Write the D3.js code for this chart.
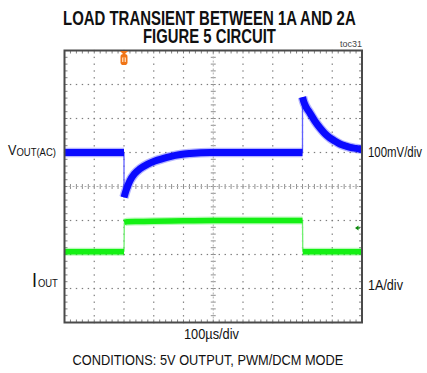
<!DOCTYPE html>
<html>
<head>
<meta charset="utf-8">
<script src="https://cdn.jsdelivr.net/npm/d3@7.9.0/dist/d3.min.js"></script>
<style>
  body { margin: 0; background: #fff; }
  svg { display: block; background: #fff; }
  text { font-family: 'Liberation Sans', Arial, sans-serif; fill: #111; }
</style>
</head>
<body>
<svg id="chart" width="427" height="373"></svg>
<script>
// scope screen: 10 div across (100us/div), 8 div down
const timeTicks = d3.range(0, 1001, 100);
const divTicks = d3.range(-4, 4.01, 1);

// VOUT(AC), mV relative to settled level
const voutTime = [0, 200, 200, 205, 210, 220, 235, 254, 280, 304, 330, 355, 390, 422, 489, 560, 800,
  800, 804, 812, 825, 842, 859, 875, 892, 910, 926, 945, 960, 980, 1000];
const voutMv = [0, 0, -132, -117, -104, -83, -63, -48, -34, -25, -18, -12, -6, -3, 0, 0, 0,
  163, 150, 134, 116, 92, 72, 56, 43, 33, 25, 19, 15, 12, 9];

// IOUT, A
const ioutTime = [0, 200, 201, 204, 210, 250, 300, 400, 500, 600, 700, 800, 801, 1000];
const ioutAmps = [1, 1, 1.86, 1.87, 1.88, 1.89, 1.90, 1.91, 1.92, 1.92, 1.92, 1.92, 1, 1];

const voutPerDiv = 100;   // mV/div
const ioutPerDiv = 1;     // A/div
const voutZeroDiv = 1;    // where 0 mV sits on screen
const ioutZeroDiv = -2.92;
const triggerTime = 200;
const ioutMarkerAmps = 1.7;

const svg = d3.select('#chart');

let x = d3.scaleLinear().domain([0, 1000]).range([64.5, 362]);
let y = d3.scaleLinear().domain([-4, 4]).range([322.5, 50.5]);

const minorT = d3.range(0, 1000.01, 20);
const minorD = d3.range(-4, 4.01, 0.2);

// grid dots
let grid = svg.append('g').attr('fill', '#7d7d7d');
timeTicks.slice(1, -1).filter((t) => t !== 500).forEach((t) => {
  minorD.forEach((d) => {
    grid.append('rect').attr('x', x(t) - 0.6).attr('y', y(d) - 0.6).attr('width', 1.2).attr('height', 1.4);
  });
});
divTicks.slice(1, -1).filter((d) => d !== 0).forEach((d) => {
  minorT.forEach((t) => {
    grid.append('rect').attr('x', x(t) - 0.6).attr('y', y(d) - 0.6).attr('width', 1.4).attr('height', 1.2);
  });
});

// center cross with ticks
let cross = svg.append('g').attr('stroke', '#8f8f8f').attr('stroke-width', 1);
minorT.forEach((t) => {
  cross.append('line').attr('x1', x(t)).attr('x2', x(t)).attr('y1', y(0) - 2.5).attr('y2', y(0) + 2.5);
});
minorD.forEach((d) => {
  cross.append('line').attr('x1', x(500) - 2.5).attr('x2', x(500) + 2.5).attr('y1', y(d)).attr('y2', y(d));
});
cross.append('line').attr('x1', x(0)).attr('x2', x(1000)).attr('y1', y(0)).attr('y2', y(0))
  .attr('stroke-dasharray', '2,2').attr('stroke', '#b0b0b0');
cross.append('line').attr('x1', x(500)).attr('x2', x(500)).attr('y1', y(-4)).attr('y2', y(4))
  .attr('stroke-dasharray', '2,2').attr('stroke', '#b0b0b0');

// border ticks
let bt = svg.append('g').attr('stroke', '#808080').attr('stroke-width', 1);
minorT.forEach((t) => {
  bt.append('line').attr('x1', x(t)).attr('x2', x(t)).attr('y1', y(4)).attr('y2', y(4) + 3);
  bt.append('line').attr('x1', x(t)).attr('x2', x(t)).attr('y1', y(-4)).attr('y2', y(-4) - 3);
});
minorD.forEach((d) => {
  bt.append('line').attr('x1', x(0)).attr('x2', x(0) + 3).attr('y1', y(d)).attr('y2', y(d));
  bt.append('line').attr('x1', x(1000)).attr('x2', x(1000) - 3).attr('y1', y(d)).attr('y2', y(d));
});

function drawTrace(times, values, toDiv, color, edge, core, halo) {
  let pts = times.map((t, i) => [x(t), y(toDiv(values[i]))]);
  let runs = [[pts[0]]];
  let jumps = [];
  for (let i = 1; i < pts.length; i++) {
    if (times[i] - times[i - 1] <= 1) {
      jumps.push([pts[i - 1], pts[i]]);
      runs.push([pts[i]]);
    } else {
      runs[runs.length - 1].push(pts[i]);
    }
  }
  let line = d3.line().curve(d3.curveMonotoneX);
  let g = svg.append('g').attr('fill', 'none').attr('stroke-linecap', 'butt');
  jumps.forEach((j) => {
    g.append('path').attr('d', d3.line()(j)).attr('stroke', edge).attr('stroke-width', 1.3);
  });
  runs.forEach((r) => {
    g.append('path').attr('d', line(r)).attr('stroke', color).attr('stroke-width', halo).attr('stroke-opacity', 0.3);
    g.append('path').attr('d', line(r)).attr('stroke', color).attr('stroke-width', core);
  });
}

drawTrace(voutTime, voutMv, (v) => v / voutPerDiv + voutZeroDiv, '#0a0aff', '#6060ff', 7, 9.5);
drawTrace(ioutTime, ioutAmps, (v) => v / ioutPerDiv + ioutZeroDiv, '#14f014', '#70f070', 5.5, 8);

// frame
svg.append('rect').attr('x', x(0)).attr('y', y(4)).attr('width', x(1000) - x(0)).attr('height', y(-4) - y(4))
  .attr('fill', 'none').attr('stroke', '#4a4a4a').attr('stroke-width', 2);

// trigger marker
let tx = x(triggerTime);
let trig = svg.append('g');
trig.append('path').attr('d', `M${tx - 4},51 L${tx + 4},51 L${tx},55 Z`).attr('fill', '#f07416');
trig.append('rect').attr('x', tx - 3.5).attr('y', 54).attr('width', 7).attr('height', 11).attr('rx', 2.8).attr('fill', '#f07416');
trig.append('rect').attr('x', tx - 2).attr('y', 57.5).attr('width', 4).attr('height', 4.5).attr('fill', '#ffd2a8');
trig.append('rect').attr('x', tx - 0.6).attr('y', 57.5).attr('width', 1.2).attr('height', 4.5).attr('fill', '#f07416');

// IOUT trigger level marker
let my = y(ioutMarkerAmps / ioutPerDiv + ioutZeroDiv);
svg.append('path').attr('d', `M355,${my} L358.5,${my - 2.5} L358.5,${my + 2.5} Z`).attr('fill', '#0a8a0a');
svg.append('line').attr('x1', 357).attr('x2', 360).attr('y1', my).attr('y2', my).attr('stroke', '#0a8a0a').attr('stroke-width', 1.2);

// narrow text: measure, then squeeze horizontally to the wanted width
function narrow(sel, px, py, width, anchor) {
  let len = sel.node().getComputedTextLength();
  let k = width / len;
  let left = anchor === 'middle' ? px - width / 2 : px;
  sel.attr('x', 0).attr('y', 0).attr('text-anchor', 'start')
    .attr('transform', `translate(${left},${py}) scale(${k},1)`);
  return sel;
}
function label(px, py, size, width, str, anchor) {
  let t = svg.append('text').attr('font-size', size).text(str);
  return narrow(t, px, py, width, anchor);
}

// titles
let t1 = svg.append('text').attr('font-size', 19.5).attr('font-weight', 'bold').text('LOAD TRANSIENT BETWEEN 1A AND 2A');
narrow(t1, 209.5, 25, 293, 'middle');
let t2 = svg.append('text').attr('font-size', 19.5).attr('font-weight', 'bold').text('FIGURE 5 CIRCUIT');
narrow(t2, 209.5, 42.5, 133, 'middle');
svg.append('text').attr('x', 362).attr('y', 46.5).attr('text-anchor', 'end')
  .attr('font-size', 9).style('fill', '#444').text('toc31');

// channel labels
let vl = svg.append('text').attr('font-size', 14);
vl.append('tspan').text('V');
vl.append('tspan').attr('font-size', 10.5).attr('dy', 1).text('OUT(AC)');
narrow(vl, 8, 154.5, 48);
let il = svg.append('text').attr('font-size', 20);
il.append('tspan').text('I');
il.append('tspan').attr('font-size', 10.5).attr('dx', 1).text('OUT');
narrow(il, 32, 287, 25);

label(368, 156.5, 14, 54, '100mV/div');
label(368, 289.5, 14, 35, '1A/div');
label(211.5, 338.5, 14, 55, '100µs/div', 'middle');
label(208, 365, 14, 271, 'CONDITIONS: 5V OUTPUT, PWM/DCM MODE', 'middle');
</script>
</body>
</html>
